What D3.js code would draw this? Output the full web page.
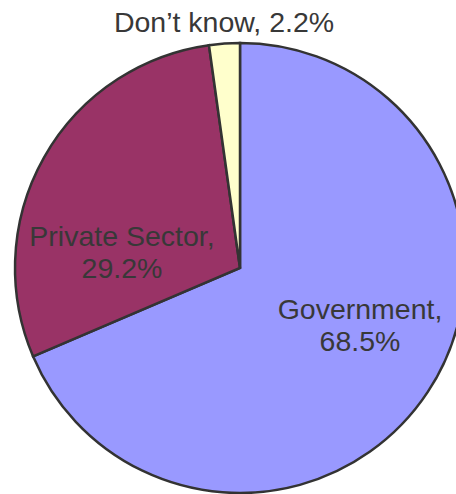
<!DOCTYPE html>
<html>
<head>
<meta charset="utf-8">
<script src="https://cdn.jsdelivr.net/npm/d3@7"></script>
<style>
  html, body { margin: 0; padding: 0; background: #fff; }
  svg { display: block; }
</style>
</head>
<body>
<svg id="chart" width="456" height="494"></svg>
<script>
// Who should pay: share of responses
const categories = ["Government", "Private Sector", "Don\u2019t know"];
const values = [68.5, 29.2, 2.2];
const colors = ["#9999ff", "#993366", "#ffffcc"];
const labelLines = [["Government,", "68.5%"], ["Private Sector,", "29.2%"], ["Don\u2019t know, 2.2%"]];

const svg = d3.select("#chart");
const cx = 240, cy = 268, radius = 225;

const pie = d3.pie().sort(null).value(d => d.value);
const arcs = pie(categories.map((c, i) => ({ name: c, value: values[i], i })));
const arc = d3.arc().innerRadius(0).outerRadius(radius);

const g = svg.append("g").attr("transform", `translate(${cx},${cy})`);

g.selectAll("path")
  .data(arcs)
  .join("path")
  .attr("d", arc)
  .attr("fill", d => colors[d.data.i])
  .attr("stroke", "#333333")
  .attr("stroke-width", 2.5)
  .attr("stroke-linejoin", "miter");

// Label anchor positions (relative to pie centre)
const labelPos = [
  { x: 120, y: 51 },    // Government
  { x: -118, y: -22 },  // Private Sector
  { x: -16, y: -236 }   // Don't know (above the pie)
];
const lineH = 31.5;

const labels = svg.append("g")
  .attr("font-family", "'Liberation Sans', Arial, sans-serif")
  .attr("font-size", 28.5)
  .attr("fill", "#383838")
  .attr("text-anchor", "middle");

arcs.forEach(d => {
  const p = labelPos[d.data.i];
  const t = labels.append("text")
    .attr("x", cx + p.x)
    .attr("y", cy + p.y);
  labelLines[d.data.i].forEach((line, k) => {
    t.append("tspan")
      .attr("x", cx + p.x)
      .attr("dy", k === 0 ? 0 : lineH)
      .text(line);
  });
});
</script>
</body>
</html>
